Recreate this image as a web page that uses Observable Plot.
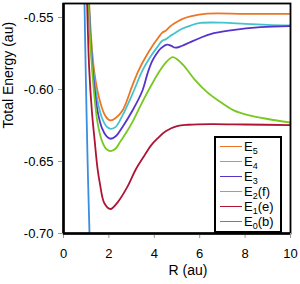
<!DOCTYPE html>
<html><head><meta charset="utf-8">
<script src="https://cdn.jsdelivr.net/npm/d3@7"></script>
<script src="https://cdn.jsdelivr.net/npm/@observablehq/plot@0.6"></script>
<style>
body{margin:0;background:#fff;}
#wrap{position:relative;width:300px;height:284px;font-family:"Liberation Sans",Arial,sans-serif;}
#wrap svg{position:absolute;left:0;top:0;}
#legend{position:absolute;left:214px;top:136px;width:64px;height:90px;border:2px solid #000;background:#fff;padding:0.5px 0 2.5px 0;}
.row{height:15px;display:flex;align-items:center;font-size:13px;color:#000;white-space:nowrap;}
.sw{width:22px;height:0;border-top:1.5px solid;margin-left:4px;margin-right:2px;}
.row sub{font-size:9px;vertical-align:-3px;line-height:0;}
</style>
</head><body>
<div id="wrap"><div id="legend"></div></div>
<script>
// Series names (legend order) and colours
const seriesNames = ["E5", "E4", "E3", "E2(f)", "E1(e)", "E0(b)"];
const seriesColors = ["#EC7625", "#45C3CC", "#5534CC", "#78C820", "#AE1535", "#3A8DE0"];

// Tick values
const xTicks = [0, 2, 4, 6, 8, 10];
const yTicks = [-0.70, -0.65, -0.60, -0.55];
const xLabel = "R (au)";
const yLabel = "Total Energy (au)";

// [R, Energy] pairs
const E5 = [[1.11,-0.535],[1.13,-0.540],[1.22,-0.565],[1.35,-0.587],[1.57,-0.606],[1.79,-0.6167],[1.95,-0.6205],[2.08,-0.6215],[2.3,-0.6198],[2.6,-0.6146],[3.04,-0.597],[3.3,-0.587],[3.6,-0.578],[3.98,-0.5683],[4.2,-0.5635],[4.35,-0.5605],[4.5,-0.5592],[4.7,-0.5562],[4.86,-0.5544],[5.2,-0.5513],[5.59,-0.5493],[6.33,-0.5474],[8,-0.5475],[10,-0.5475]];
const E4 = [[1.10,-0.535],[1.12,-0.540],[1.2,-0.565],[1.35,-0.592],[1.5,-0.608],[1.7,-0.620],[1.9,-0.6258],[2.08,-0.6273],[2.3,-0.626],[2.6,-0.618],[3.04,-0.603],[3.48,-0.5868],[3.8,-0.578],[4.13,-0.5706],[4.35,-0.5662],[4.5,-0.5652],[4.7,-0.5628],[4.86,-0.5613],[5.2,-0.558],[5.59,-0.5556],[6.04,-0.5538],[7,-0.5536],[8,-0.5545],[9,-0.5552],[10,-0.5556]];
const E3 = [[1.09,-0.535],[1.11,-0.540],[1.2,-0.568],[1.35,-0.597],[1.5,-0.615],[1.7,-0.627],[1.9,-0.6325],[2.08,-0.6342],[2.3,-0.6325],[2.6,-0.626],[3.04,-0.6146],[3.48,-0.6007],[3.7,-0.589],[3.9,-0.5805],[4.1,-0.5752],[4.3,-0.5713],[4.57,-0.5688],[4.75,-0.5697],[4.93,-0.571],[5.2,-0.5698],[5.59,-0.5671],[6.04,-0.5641],[6.48,-0.5615],[7.36,-0.559],[8.68,-0.5567],[10,-0.556]];
const E2 = [[1.08,-0.535],[1.10,-0.540],[1.2,-0.572],[1.35,-0.603],[1.5,-0.623],[1.7,-0.636],[1.9,-0.6415],[2.08,-0.6428],[2.3,-0.641],[2.51,-0.636],[2.8,-0.629],[3.04,-0.6225],[3.4,-0.611],[3.8,-0.599],[4.2,-0.588],[4.5,-0.5815],[4.8,-0.5776],[5.0,-0.579],[5.3,-0.5835],[5.8,-0.5935],[6.3,-0.6015],[6.8,-0.6075],[7.5,-0.6145],[8.2,-0.618],[9,-0.6205],[10,-0.623]];
const E1 = [[1.03,-0.535],[1.04,-0.540],[1.13,-0.585],[1.25,-0.615],[1.37,-0.635],[1.5,-0.655],[1.6,-0.665],[1.8,-0.679],[2.07,-0.683],[2.4,-0.678],[2.8,-0.668],[3.2,-0.655],[3.6,-0.645],[3.85,-0.639],[4.14,-0.634],[4.5,-0.629],[5,-0.6255],[5.5,-0.6245],[6.5,-0.624],[8,-0.6243],[10,-0.6248]];
const E0 = [[0.92,-0.535],[0.925,-0.540],[0.97,-0.580],[1.06,-0.649],[1.145,-0.700],[1.16,-0.710]];

const seriesData = [E5, E4, E3, E2, E1, E0];
const table = seriesData.flatMap((arr, i) => arr.map(([R, E]) => ({series: seriesNames[i], R, E})));

const font = "Liberation Sans, Arial, sans-serif";
const chart = Plot.plot({
  width: 300, height: 284,
  marginLeft: 63, marginRight: 10, marginTop: 3, marginBottom: 51,
  style: {fontFamily: font, fontSize: "13px", background: "white", color: "black"},
  x: {domain: [0, 10]},
  y: {domain: [-0.70, -0.5403]},
  color: {domain: seriesNames, range: seriesColors},
  marks: [
    Plot.line(table, {x: "R", y: "E", z: "series", stroke: "series", curve: "catmull-rom", strokeWidth: 1.8, clip: true}),
    Plot.frame({stroke: "black", strokeWidth: 1.8}),
    Plot.axisX({ticks: xTicks, tickSize: 5, tickPadding: 10, label: null, stroke: "#999", fill: "black", fontSize: 13}),
    Plot.axisY({ticks: yTicks, tickSize: 5, tickPadding: 5, label: null, stroke: "#999", fill: "black", fontSize: 13, tickFormat: d => d.toFixed(2)}),
    Plot.ruleX([0], {stroke: "black", strokeWidth: 2.5}),
    Plot.ruleY([-0.70], {stroke: "black", strokeWidth: 2.5}),
    Plot.text([xLabel], {text: d => d, frameAnchor: "bottom", dy: 41, dx: 11, fontSize: 14, fill: "black"}),
    Plot.text([yLabel], {text: d => d, frameAnchor: "left", rotate: -90, dx: -55, dy: 10, fontSize: 14, fill: "black"})
  ]
});
const wrap = document.getElementById("wrap");
wrap.insertBefore(chart, wrap.firstChild);

// Legend
const legend = document.getElementById("legend");
seriesNames.forEach((name, i) => {
  const row = document.createElement("div");
  row.className = "row";
  const sw = document.createElement("span");
  sw.className = "sw";
  sw.style.borderTopColor = seriesColors[i];
  row.appendChild(sw);
  const label = document.createElement("span");
  const m = name.match(/^E(\d)(.*)$/);
  label.innerHTML = "E<sub>" + m[1] + "</sub>" + m[2];
  row.appendChild(label);
  legend.appendChild(row);
});
</script>
</body></html>
